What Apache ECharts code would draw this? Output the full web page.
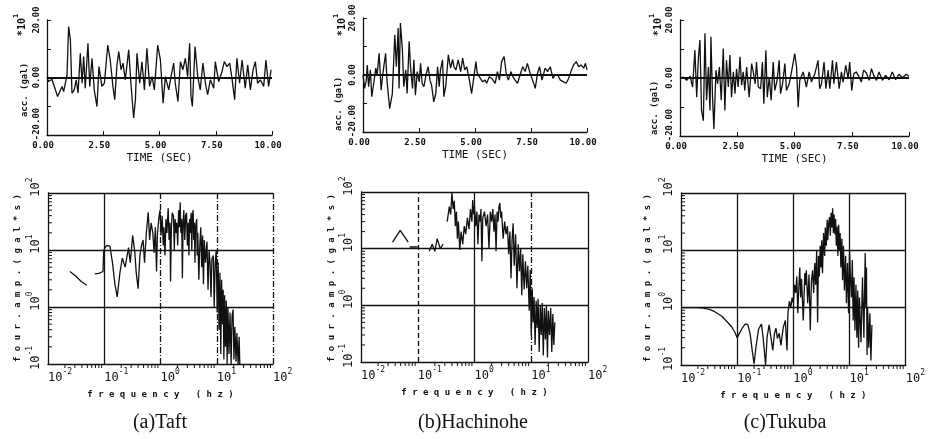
<!DOCTYPE html>
<html>
<head>
<meta charset="utf-8">
<script src="https://cdn.jsdelivr.net/npm/echarts@6/dist/echarts.min.js"></script>
<style>
  html, body { margin: 0; padding: 0; background: #fff; }
  #main { width: 928px; height: 439px; }
</style>
</head>
<body>
<div id="main"></div>
<script>
// Acceleration records: [time (s), acceleration (x10 gal)]
const taftAcc = [
  [0,0],[0.07,-1.4],[0.22,-0.6],[0.30,-0.8],[0.47,-6.6],[0.67,-3.1],[0.74,-4.9],[0.89,0.9],[0.96,17.7],[1.04,13.1],
  [1.11,-5.4],[1.21,-4.3],[1.30,-0.8],[1.38,-5.4],[1.48,8.4],[1.56,-2.0],[1.63,7.3],[1.70,-3.7],[1.82,11.9],[1.90,-3.1],
  [2.00,6.7],[2.10,-4.3],[2.22,-10.1],[2.31,3.8],[2.44,-3.1],[2.55,-2.0],[2.70,11.3],[2.81,6.1],[2.93,-3.1],[3.01,-7.7],
  [3.11,4.4],[3.19,9.0],[3.29,2.7],[3.38,5.0],[3.48,-0.8],[3.63,9.6],[3.73,-2.0],[3.85,-14.1],[3.93,-7.7],[4.00,8.4],
  [4.12,-2.0],[4.22,5.5],[4.33,-4.3],[4.44,10.2],[4.56,-3.1],[4.67,0.3],[4.77,-4.3],[4.92,11.3],[5.04,6.1],[5.16,-8.9],
  [5.26,0.3],[5.41,-4.3],[5.51,0.3],[5.63,5.0],[5.70,-2.0],[5.82,-8.3],[5.93,5.5],[6.04,2.7],[6.15,6.7],[6.25,0.3],
  [6.34,11.9],[6.40,-6.6],[6.46,-10.1],[6.58,10.8],[6.70,0.3],[6.81,-4.3],[6.93,5.0],[7.04,-2.0],[7.14,-6.0],[7.26,-0.8],
  [7.41,-3.7],[7.48,5.5],[7.63,-1.4],[7.78,2.1],[7.88,5.5],[8.00,3.8],[8.12,5.0],[8.22,-0.2],[8.34,-7.7],[8.44,6.7],
  [8.56,-2.0],[8.67,6.1],[8.81,-3.7],[8.92,4.4],[9.04,-4.3],[9.16,2.7],[9.26,5.5],[9.36,-2.0],[9.48,-0.8],[9.63,-3.1],
  [9.73,6.1],[9.85,-3.1],[9.96,2.7]
];
const hachinoheAcc = [
  [0,0],[0.07,-4.7],[0.15,-1.8],[0.19,3.5],[0.25,-4.1],[0.33,1.8],[0.39,-7.6],[0.48,-2.9],[0.57,2.4],[0.63,0],
  [0.72,7.6],[0.81,-5.3],[0.87,-0.6],[1.01,7.6],[1.07,-1.8],[1.19,-11.8],[1.31,-6.5],[1.42,14.1],[1.49,2.9],[1.57,16.5],
  [1.61,-4.7],[1.67,18.2],[1.76,8.8],[1.82,-4.1],[1.91,1.8],[1.97,-6.5],[2.06,11.8],[2.12,2.9],[2.21,-4.7],[2.27,5.3],
  [2.34,-7.1],[2.42,1.2],[2.51,-2.4],[2.57,4.1],[2.64,-2.9],[2.72,-4.1],[2.81,0],[2.91,2.9],[2.99,-1.8],[3.06,-3.5],
  [3.16,-9.4],[3.25,-6.5],[3.33,2.9],[3.40,-4.1],[3.46,1.8],[3.55,5.3],[3.61,-7.6],[3.70,-3.5],[3.81,7.1],[3.91,2.4],
  [4.00,5.5],[4.06,2.9],[4.15,1.8],[4.25,5.3],[4.36,1.2],[4.45,5.9],[4.54,1.8],[4.63,2.9],[4.75,-1.8],[4.85,-6.5],
  [4.93,-1.8],[5.04,4.7],[5.10,0.6],[5.19,-0.6],[5.34,-2.4],[5.45,-1.8],[5.52,-2.9],[5.64,-0.6],[5.75,-1.2],[5.82,-1.8],
  [5.90,-2.9],[6.00,1.2],[6.09,-1.8],[6.19,4.7],[6.30,6.5],[6.39,0.6],[6.49,-1.8],[6.60,1.2],[6.69,-0.6],[6.79,-1.8],
  [6.90,-2.9],[7.01,0],[7.13,2.9],[7.24,1.2],[7.34,4.1],[7.46,0.6],[7.57,-1.8],[7.69,-4.7],[7.79,0.6],[7.88,2.9],
  [7.99,-1.8],[8.06,-1.2],[8.13,2.4],[8.24,1.2],[8.36,2.9],[8.48,-1.2],[8.58,0],[8.69,0],[8.81,-1.8],[8.96,-2.4],
  [9.07,-2.9],[9.18,-1.2],[9.28,1.2],[9.40,3.5],[9.52,4.7],[9.63,2.9],[9.73,3.5],[9.85,2.4],[9.93,4.1],[10,1.8]
];
const tukubaAcc = [
  [0,-0.2],[0.15,0.3],[0.29,-0.8],[0.44,0.6],[0.55,-3.1],[0.65,9.6],[0.73,-6.6],[0.80,6.7],[0.87,13.1],[0.94,-11.2],
  [1.02,-14.7],[1.09,15.4],[1.16,-7.7],[1.24,3.8],[1.31,-11.2],[1.35,14.2],[1.42,-6.6],[1.48,-17.6],[1.57,2.7],[1.64,-2.0],
  [1.72,3.8],[1.80,-7.7],[1.89,10.2],[1.96,-11.2],[2.03,6.1],[2.11,-3.1],[2.18,7.9],[2.25,-6.6],[2.33,2.1],[2.40,-5.4],
  [2.47,3.2],[2.54,-3.1],[2.62,7.3],[2.69,-2.5],[2.76,2.1],[2.83,-4.3],[2.91,3.8],[3.02,-6.6],[3.13,5.0],[3.20,2.1],
  [3.28,-2.0],[3.34,5.5],[3.42,-3.1],[3.52,-3.7],[3.60,5.5],[3.66,-8.9],[3.75,9.6],[3.81,-6.6],[3.90,0.3],[3.98,-7.7],
  [4.07,5.5],[4.14,-4.3],[4.24,-0.8],[4.33,6.1],[4.39,-5.4],[4.48,-2.0],[4.58,5.0],[4.65,-4.3],[4.77,-2.0],[4.87,2.1],
  [5.01,8.4],[5.09,3.8],[5.16,-10.1],[5.23,-0.8],[5.38,2.1],[5.52,-3.1],[5.64,2.1],[5.74,-1.4],[5.89,1.5],[6.03,6.1],
  [6.10,-3.7],[6.18,-2.0],[6.29,5.5],[6.37,-3.7],[6.47,2.7],[6.54,-3.7],[6.66,6.1],[6.72,-2.0],[6.83,5.5],[6.95,-3.7],
  [7.05,2.1],[7.12,-1.4],[7.24,4.4],[7.34,-0.2],[7.41,5.5],[7.50,-4.3],[7.59,1.5],[7.70,2.1],[7.82,0.3],[7.92,-1.4],
  [8.02,2.7],[8.14,1.7],[8.26,-0.8],[8.36,3.2],[8.46,0.9],[8.58,-0.8],[8.69,2.1],[8.84,-0.8],[8.98,0.9],[9.13,-0.6],
  [9.27,2.1],[9.42,-0.6],[9.56,1.3],[9.71,0.1],[9.88,1.3],[10,0.6]
];

// Fourier amplitude spectra: [frequency (Hz), amplitude (gal*s)], split where the pen lifted
const taftSpecLow = [[0.0245,4.2],[0.031,3.5],[0.039,2.8],[0.049,2.4]];
const taftSpecMain = [
  [0.068,3.8],[0.08,3.9],[0.095,4.2],[0.098,10],[0.11,12],[0.126,11.7],[0.14,6],[0.155,2.5],[0.17,1.5],[0.19,4],
  [0.21,7.2],[0.235,5],[0.27,11],[0.29,6],[0.32,18],[0.35,9],[0.37,4],[0.40,2.1],[0.43,8],[0.46,12],
  [0.49,15],[0.52,6],[0.56,20],[0.605,46],[0.64,15],[0.68,30],[0.73,20],[0.77,9],[0.81,25],[0.85,4.2],
  [0.88,18],[0.93,35],[0.98,50],[1.02,18],[1.07,40],[1.12,12],[1.15,25],[1.2,8],[1.25,35],[1.3,20],
  [1.37,54],[1.42,15],[1.47,30],[1.51,2.8],[1.56,25],[1.62,45],[1.7,40],[1.76,10],[1.82,35],[1.9,20],
  [1.95,30],[2.02,12],[2.1,50],[2.17,25],[2.24,69],[2.3,20],[2.38,35],[2.45,3.2],[2.52,30],[2.6,50],
  [2.7,15],[2.8,40],[2.9,45],[3.0,12],[3.1,30],[3.2,8],[3.3,35],[3.4,20],[3.5,45],[3.6,10],
  [3.7,40],[3.8,50],[3.9,15],[4.0,30],[4.1,6],[4.2,25],[4.4,35],[4.5,8],[4.6,20],[4.8,3],
  [5.0,12],[5.2,25],[5.4,5],[5.6,18],[5.8,2.5],[6.0,15],[6.3,6],[6.7,14],[7.0,2],[7.3,10],
  [7.6,6],[7.9,1.5],[8.2,7],[8.7,8],[9.0,1],[9.4,6],[9.8,10],[10.2,0.8],[10.6,6],[11.0,0.4],
  [11.4,4],[11.8,0.15],[12.2,3],[12.6,0.5],[13.0,2],[13.4,0.12],[13.8,1.6],[14.3,0.2],[14.8,1.3],[15.3,0.1],
  [15.8,1.0],[16.5,0.15],[17.2,0.8],[18.0,0.1],[18.7,0.7],[19.5,0.9],[20.2,0.12],[21,0.45],[22,0.11],[22.8,0.35],
  [24,0.1],[25,0.3],[25.7,0.1]
];
const hachinoheSpecLow = [[0.036,13],[0.049,21],[0.068,13]];
const hachinoheSpecFlat = [[0.072,10.7],[0.1,10.7]];
const hachinoheSpecMid = [[0.16,9],[0.18,12],[0.2,9],[0.22,15],[0.25,10],[0.28,12]];
const hachinoheSpecMain = [
  [0.33,30],[0.36,55],[0.38,40],[0.40,96],[0.42,50],[0.44,70],[0.46,25],[0.48,45],[0.5,15],[0.52,30],
  [0.55,9.5],[0.58,20],[0.62,12],[0.66,25],[0.7,18],[0.75,35],[0.8,22],[0.85,50],[0.9,30],[0.93,72],
  [0.97,40],[1.0,55],[1.05,25],[1.1,45],[1.15,12],[1.2,40],[1.25,30],[1.3,50],[1.35,6],[1.4,35],
  [1.5,45],[1.6,25],[1.7,40],[1.8,10],[1.9,45],[2.0,30],[2.1,50],[2.2,20],[2.3,40],[2.4,9],
  [2.5,45],[2.6,30],[2.7,55],[2.8,64],[2.9,35],[3.0,45],[3.2,15],[3.4,30],[3.6,18],[3.8,25],
  [4.0,8],[4.2,20],[4.4,3],[4.6,15],[4.8,28],[5.0,5],[5.3,18],[5.6,2],[5.9,12],[6.2,4],
  [6.5,10],[6.8,1.5],[7.1,8],[7.5,1.9],[7.9,6],[8.3,2],[8.7,5],[9.2,0.8],[9.6,4.2],[10,0.3],
  [10.4,2],[10.8,0.5],[11.2,1.4],[11.7,0.2],[12.2,1.2],[12.7,0.4],[13.2,1.3],[13.8,0.15],[14.4,1.0],[15,0.3],
  [15.6,1.1],[16.3,0.13],[17,0.9],[17.8,0.25],[18.5,1.0],[19.3,0.12],[20,0.8],[21,0.3],[22,0.9],[23,0.15],
  [24,0.7],[25,0.2],[26,0.5]
];
const tukubaSpec = [
  [0.01,1.0],[0.015,1.0],[0.02,1.0],[0.025,0.98],[0.032,0.93],[0.04,0.85],[0.054,0.70],[0.068,0.55],[0.08,0.46],[0.09,0.38],
  [0.1,0.30],[0.11,0.36],[0.125,0.45],[0.14,0.52],[0.155,0.5],[0.17,0.35],[0.185,0.18],[0.2,0.105],[0.215,0.2],[0.24,0.42],
  [0.27,0.52],[0.29,0.3],[0.32,0.1],[0.34,0.3],[0.37,0.5],[0.4,0.3],[0.43,0.18],[0.46,0.35],[0.49,0.44],[0.52,0.29],
  [0.56,0.36],[0.6,0.22],[0.66,0.45],[0.72,0.6],[0.77,0.18],[0.8,0.8],[0.85,1.3],[0.9,1.0],[0.95,1.5],[1.0,1.2],
  [1.05,2.5],[1.1,1.8],[1.15,3.5],[1.2,0.8],[1.25,2.2],[1.3,5],[1.35,1.5],[1.4,3.2],[1.5,0.6],[1.6,4],
  [1.65,2.5],[1.7,4.5],[1.8,1.2],[1.9,3.8],[2.0,0.4],[2.1,3],[2.2,4.5],[2.3,1.8],[2.4,6],[2.5,2.5],
  [2.6,10],[2.7,0.55],[2.8,8],[2.9,3.5],[3.0,12],[3.1,5],[3.2,15],[3.3,4],[3.45,20],[3.6,8],
  [3.7,25],[3.85,12],[4.0,34],[4.1,15],[4.25,30],[4.4,38],[4.55,18],[4.7,45],[4.85,25],[5.0,54],
  [5.15,20],[5.3,42],[5.5,19],[5.65,35],[5.8,12],[6.0,26],[6.2,8],[6.4,28],[6.6,10],[6.8,20],
  [7.0,5],[7.3,16],[7.5,3],[7.8,12],[8.1,2],[8.5,8],[8.8,1.2],[9.2,6],[9.6,0.8],[10,10],
  [10.4,3],[10.8,1.5],[11.2,6.8],[11.6,0.6],[12,3.4],[12.5,0.4],[13,2.5],[13.5,0.3],[14,2],[14.5,0.2],
  [15,1.5],[16,0.25],[17,3.4],[18,0.3],[19,9],[19.5,1],[20,5],[20.5,0.15],[21,1],[22,0.2],
  [23,0.8],[24,0.12],[25,0.5]
];

// Axis ticks and labels
const timeTicks = [0, 2.5, 5, 7.5, 10];
const accLabels = { '20': '20.00', '0': '0.00', '-20': '-20.00' };
const freqDecades = [0.01, 0.1, 1, 10, 100];
const ampDecades = [0.1, 1, 10, 100];
const captions = ['(a)Taft', '(b)Hachinohe', '(c)Tukuba'];

const INK = '#111';
const MONO = 'DejaVu Sans Mono';
const DASHDOT = [6, 2, 1, 2];

// Layout of the three columns
const panels = [
  {
    acc: taftAcc, spec: [taftSpecLow, taftSpecMain],
    top: { left: 47, top: 20, width: 225, height: 115 },
    bot: { left: 48, top: 193, width: 225, height: 171 },
    vLines: ['solid', DASHDOT, DASHDOT], right: DASHDOT,
    unitPos: [20, 25], accPos: [25, 90], specPos: [18, 278], capX: 160
  },
  {
    acc: hachinoheAcc, spec: [hachinoheSpecLow, hachinoheSpecFlat, hachinoheSpecMid, hachinoheSpecMain],
    top: { left: 363, top: 18, width: 224, height: 114 },
    bot: { left: 361, top: 192, width: 227, height: 170 },
    vLines: [[5, 3], 'solid', DASHDOT], right: 'solid',
    unitPos: [340, 25], accPos: [339, 104], specPos: [332, 278], capX: 473
  },
  {
    acc: tukubaAcc, spec: [tukubaSpec],
    top: { left: 680, top: 20, width: 229, height: 116 },
    bot: { left: 681, top: 193, width: 230, height: 172 },
    vLines: ['solid', 'solid', 'solid'], right: 'solid',
    unitPos: [656, 25], accPos: [655, 108], specPos: [648, 278], capX: 785
  }
];

const pow10Rich = {
  b: { fontFamily: MONO, fontSize: 12, lineHeight: 16, verticalAlign: 'bottom', color: INK },
  s: { fontFamily: MONO, fontSize: 8, lineHeight: 9, verticalAlign: 'top', color: INK }
};
function pow10Label(v) {
  return '{b|10}{s|' + Math.round(Math.log10(v)) + '}';
}

const grid = [], xAxis = [], yAxis = [], series = [], graphics = [];

panels.forEach((p, i) => {
  const gTop = 2 * i, gBot = 2 * i + 1;
  grid.push(Object.assign({}, p.top));
  grid.push(Object.assign({}, p.bot));

  // time history axes
  xAxis.push({
    gridIndex: gTop, type: 'value', min: 0, max: 10, interval: 2.5,
    axisLine: { onZero: false, lineStyle: { color: INK, width: 1.3 } },
    axisTick: { inside: true, length: 4, lineStyle: { color: INK } },
    axisLabel: {
      formatter: v => timeTicks.includes(v) ? v.toFixed(2) : '',
      fontFamily: MONO, fontSize: 9, fontWeight: 'bold', color: INK, margin: 6, padding: [0, 8, 0, 0]
    },
    splitLine: { show: false },
    name: 'TIME (SEC)', nameLocation: 'middle', nameGap: 18,
    nameTextStyle: { fontFamily: MONO, fontSize: 11, color: INK }
  });
  yAxis.push({
    gridIndex: gTop, type: 'value', min: -20, max: 20, interval: 10,
    axisLine: { show: true, lineStyle: { color: INK, width: 1.3 } },
    axisTick: { show: true, inside: true, length: 4, lineStyle: { color: INK } },
    axisLabel: {
      rotate: 90, margin: 6,
      formatter: v => v === -20 ? '{lo|' + accLabels[v] + '}' : (accLabels[String(v)] || ''),
      fontFamily: MONO, fontSize: 9, fontWeight: 'bold', color: INK,
      rich: { lo: { fontFamily: MONO, fontSize: 9, fontWeight: 'bold', color: INK, padding: [0, 0, 0, 22] } }
    },
    splitLine: { show: false }
  });

  // spectrum axes
  xAxis.push({
    gridIndex: gBot, type: 'log', logBase: 10, min: 0.01, max: 100,
    axisLine: { show: true, lineStyle: { color: INK, width: 1.3 } },
    axisTick: { show: true, inside: true, length: 5, lineStyle: { color: INK } },
    axisLabel: { formatter: pow10Label, rich: pow10Rich, align: 'left', margin: 4 },
    splitLine: { show: false },
    name: 'f r e q u e n c y   ( h z )', nameLocation: 'middle', nameGap: 26,
    nameTextStyle: { fontFamily: MONO, fontSize: 9, fontWeight: 'bold', color: INK }
  });
  yAxis.push({
    gridIndex: gBot, type: 'log', logBase: 10, min: 0.1, max: 100,
    axisLine: { show: true, lineStyle: { color: INK, width: 1.3 } },
    axisTick: { show: true, inside: true, length: 5, lineStyle: { color: INK } },
    axisLabel: { formatter: pow10Label, rich: pow10Rich, rotate: 90, margin: 6, padding: [0, 0, 0, 12] },
    splitLine: { show: false }
  });

  // acceleration trace with the zero line
  series.push({
    type: 'line', xAxisIndex: gTop, yAxisIndex: gTop, data: p.acc,
    showSymbol: false, animation: false, lineStyle: { color: INK, width: 1.3 },
    markLine: {
      silent: true, symbol: ['none', 'none'], label: { show: false },
      lineStyle: { color: INK, width: 1.8, type: 'solid' },
      data: [{ yAxis: 0 }]
    }
  });

  // spectrum pieces
  p.spec.forEach((seg, k) => {
    const s = {
      type: 'line', xAxisIndex: gBot, yAxisIndex: gBot, data: seg,
      showSymbol: false, animation: false, lineStyle: { color: INK, width: 1.3 }
    };
    if (k === 0) {
      s.markLine = {
        silent: true, symbol: ['none', 'none'], label: { show: false },
        lineStyle: { color: INK, width: 1.3 },
        data: [
          { xAxis: 0.1, lineStyle: { type: p.vLines[0] } },
          { xAxis: 1, lineStyle: { type: p.vLines[1] } },
          { xAxis: 10, lineStyle: { type: p.vLines[2] } },
          { xAxis: 100, lineStyle: { type: p.right } },
          { yAxis: 1, lineStyle: { type: 'solid' } },
          { yAxis: 10, lineStyle: { type: 'solid' } },
          { yAxis: 100, lineStyle: { type: 'solid' } }
        ]
      };
    }
    series.push(s);
  });

  // minor log ticks (2..9 within each decade)
  const xMinor = [], yMinor = [];
  freqDecades.slice(0, -1).forEach(d => { for (let m = 2; m <= 9; m++) xMinor.push([m * d, 0.1]); });
  ampDecades.slice(0, -1).forEach(d => { for (let m = 2; m <= 9; m++) yMinor.push([0.01, m * d]); });
  series.push({
    type: 'custom', xAxisIndex: gBot, yAxisIndex: gBot, data: xMinor, silent: true, animation: false,
    renderItem: (params, api) => {
      const c = api.coord([api.value(0), api.value(1)]);
      return { type: 'line', shape: { x1: c[0], y1: c[1], x2: c[0], y2: c[1] + 4 }, style: { stroke: INK, lineWidth: 1 } };
    }
  });
  series.push({
    type: 'custom', xAxisIndex: gBot, yAxisIndex: gBot, data: yMinor, silent: true, animation: false,
    renderItem: (params, api) => {
      const c = api.coord([api.value(0), api.value(1)]);
      return { type: 'line', shape: { x1: c[0], y1: c[1], x2: c[0] + 4, y2: c[1] }, style: { stroke: INK, lineWidth: 1 } };
    }
  });

  // rotated axis titles and caption
  graphics.push({
    type: 'text', x: p.unitPos[0], y: p.unitPos[1], rotation: Math.PI / 2,
    style: {
      text: '{m|*10}{s|1}', align: 'center', verticalAlign: 'middle',
      rich: {
        m: { fontFamily: MONO, fontSize: 10, fontWeight: 'bold', lineHeight: 14, verticalAlign: 'bottom', fill: INK },
        s: { fontFamily: MONO, fontSize: 7, fontWeight: 'bold', lineHeight: 8, verticalAlign: 'top', fill: INK }
      }
    }
  });
  graphics.push({
    type: 'text', x: p.accPos[0], y: p.accPos[1], rotation: Math.PI / 2,
    style: { text: 'acc. (gal)', align: 'center', verticalAlign: 'middle', font: 'bold 9px "DejaVu Sans Mono"', fill: INK }
  });
  graphics.push({
    type: 'text', x: p.specPos[0], y: p.specPos[1], rotation: Math.PI / 2,
    style: { text: 'f o u r . a m p . ( g a l * s )', align: 'center', verticalAlign: 'middle', font: 'bold 9px "DejaVu Sans Mono"', fill: INK }
  });
  graphics.push({
    type: 'text', x: p.capX, y: 423,
    style: { text: captions[i], align: 'center', verticalAlign: 'middle', font: '20px "Liberation Serif"', fill: INK }
  });
});

const chart = echarts.init(document.getElementById('main'));
chart.setOption({
  animation: false,
  backgroundColor: '#fff',
  grid, xAxis, yAxis, series,
  graphic: { elements: graphics }
});
</script>
</body>
</html>
